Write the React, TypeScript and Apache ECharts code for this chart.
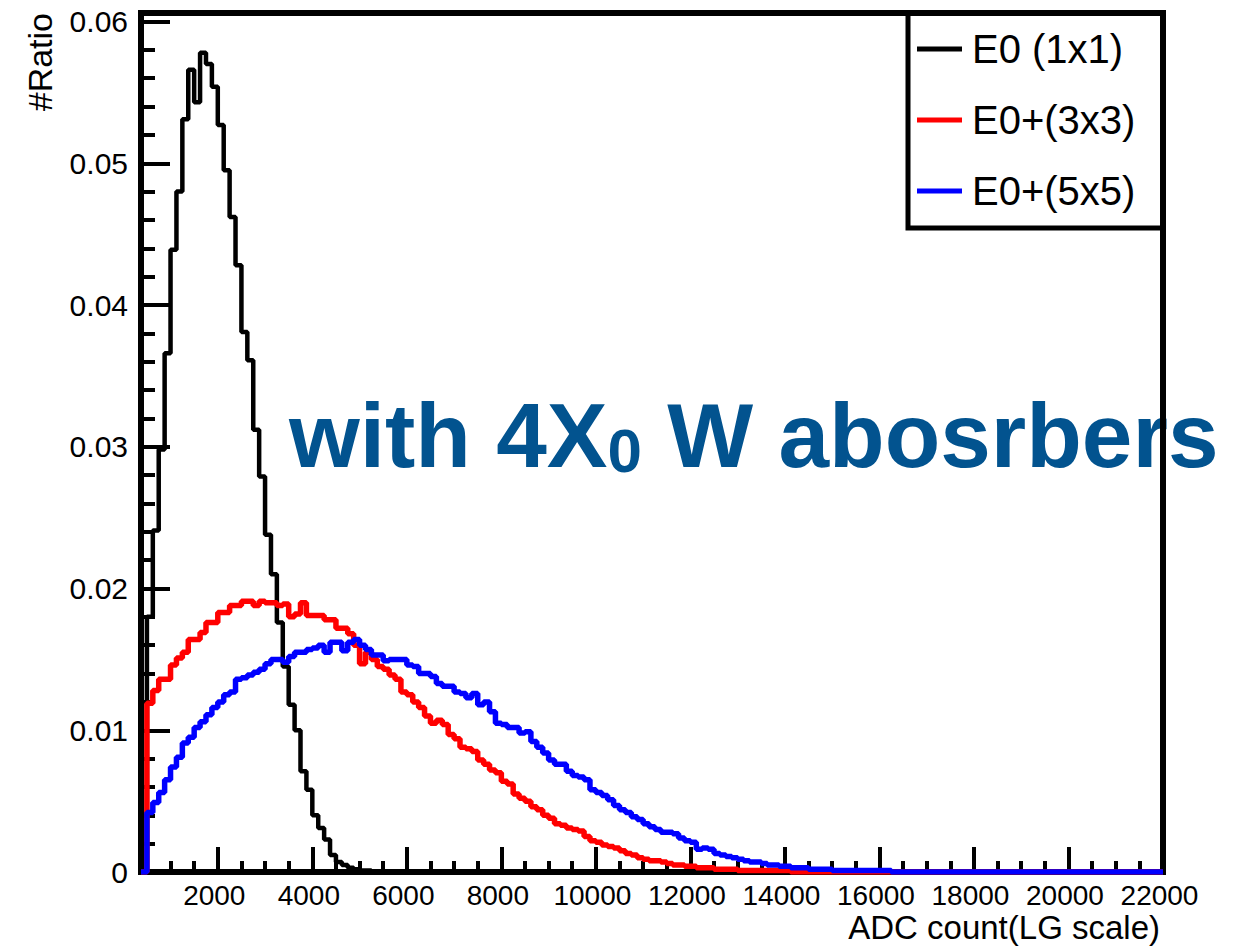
import React, { useEffect, useRef } from "react";
import * as echarts from "echarts";

// ---- axis ranges & ticks ----
const xMin = 375;
const xMax = 22000;
const yMin = 0;
const yMax = 0.0606;
const xTickValues = [2000, 4000, 6000, 8000, 10000, 12000, 14000, 16000, 18000, 20000, 22000];
const xMinorStep = 500;
const yTickValues = [0, 0.01, 0.02, 0.03, 0.04, 0.05, 0.06];
const yTickLabels = ["0", "0.01", "0.02", "0.03", "0.04", "0.05", "0.06"];
const yMinorStep = 0.002;

// ---- histogram binning ----
const binStart = 500;
const binWidth = 125;

// ---- series ----
const seriesNames = ["E0 (1x1)", "E0+(3x3)", "E0+(5x5)"];
const seriesColors = ["#000000", "#ff0000", "#0000ff"];

const e0_1x1 = [
  0.0180, 0.0241, 0.0298, 0.0366, 0.0439, 0.0480, 0.0531, 0.0566, 0.0543, 0.0578,
  0.0570, 0.0554, 0.0527, 0.0495, 0.0462, 0.0428, 0.0381, 0.0361, 0.0312, 0.0279,
  0.0238, 0.0210, 0.0176, 0.0145, 0.0118, 0.0100, 0.0071, 0.0058, 0.0040, 0.0031,
  0.0023, 0.0012, 0.0007, 0.0005, 0.0003, 0.0002, 0.0001, 0.0001, 0,
];

const e0_3x3 = [
  0.0119, 0.0128, 0.0136, 0.0136, 0.0146, 0.0151, 0.0155, 0.0164, 0.0164, 0.0169,
  0.0176, 0.0176, 0.0183, 0.0183, 0.0188, 0.0188, 0.0191, 0.0191, 0.0188, 0.0191,
  0.0190, 0.0190, 0.0188, 0.0189, 0.0180, 0.0182, 0.0190, 0.0181, 0.0181, 0.0181,
  0.0178, 0.0178, 0.0172, 0.0172, 0.0168, 0.0160, 0.0147, 0.0155, 0.0150, 0.0145,
  0.0143, 0.0139, 0.0136, 0.0127, 0.0125, 0.0120, 0.0116, 0.0110, 0.0105, 0.0107,
  0.0104, 0.0097, 0.0094, 0.0088, 0.0087, 0.0085, 0.0079, 0.0076, 0.0072, 0.0070,
  0.0064, 0.0062, 0.0055, 0.0052, 0.0050, 0.0046, 0.0044, 0.0040, 0.0038, 0.0034,
  0.0033, 0.0031, 0.0030, 0.0029, 0.0025, 0.0022, 0.0021, 0.0019, 0.0018, 0.0017,
  0.0015, 0.0013, 0.0012, 0.0010, 0.0009, 0.0008, 0.0008, 0.0007, 0.0006, 0.0005,
  0.0005, 0.0004, 0.0004, 0.0003, 0.0003, 0.0003, 0.0002, 0.0002, 0.0002, 0.0002,
  0.0001, 0.0001, 0.0001, 0.0001, 0.0001, 0.0001, 0.0001, 0.0001, 0.0001, 0,
];

const e0_5x5 = [
  0.0042, 0.0049, 0.0056, 0.0065, 0.0074, 0.0081, 0.0091, 0.0095, 0.0102, 0.0106,
  0.0111, 0.0116, 0.0120, 0.0125, 0.0127, 0.0136, 0.0137, 0.0139, 0.0141, 0.0143,
  0.0147, 0.0150, 0.0150, 0.0148, 0.0152, 0.0155, 0.0155, 0.0157, 0.0158, 0.0160,
  0.0155, 0.0162, 0.0162, 0.0156, 0.0162, 0.0164, 0.0160, 0.0157, 0.0153, 0.0153,
  0.0149, 0.0150, 0.0150, 0.0150, 0.0146, 0.0145, 0.0140, 0.0140, 0.0138, 0.0133,
  0.0131, 0.0131, 0.0127, 0.0126, 0.0123, 0.0126, 0.0118, 0.0120, 0.0113, 0.0105,
  0.0104, 0.0102, 0.0102, 0.0098, 0.0099, 0.0092, 0.0088, 0.0084, 0.0079, 0.0076,
  0.0076, 0.0071, 0.0068, 0.0067, 0.0065, 0.0058, 0.0056, 0.0054, 0.0051, 0.0047,
  0.0044, 0.0042, 0.0039, 0.0037, 0.0034, 0.0032, 0.0030, 0.0028, 0.0028, 0.0027,
  0.0024, 0.0022, 0.0021, 0.0016, 0.0017, 0.0016, 0.0013, 0.0012, 0.0011, 0.0010,
  0.0009, 0.0008, 0.0007, 0.0007, 0.0006, 0.0005, 0.0005, 0.0004, 0.0004, 0.0003,
  0.0003, 0.0003, 0.0002, 0.0002, 0.0002, 0.0002, 0.0001, 0.0001, 0.0001, 0.0001,
  0.0001, 0.0001, 0.0001, 0.0001, 0.0001, 0.0001, 0,
];

const annotationColor = "#02538f";
const FONT = '"Liberation Sans", Arial, Helvetica, sans-serif';

function toSteps(vals: number[]): number[][] {
  const pts: number[][] = [[xMin, 0]];
  vals.forEach((v, i) => pts.push([binStart + i * binWidth, v]));
  pts.push([binStart + vals.length * binWidth, 0]);
  pts.push([xMax, 0]);
  return pts;
}

function rangeTicks(from: number, to: number, step: number): number[] {
  const out: number[] = [];
  const n = Math.round((to - from) / step);
  for (let i = 0; i <= n; i++) out.push(Number((from + i * step).toFixed(6)));
  return out;
}

export default function App() {
  const ref = useRef<HTMLDivElement>(null);

  useEffect(() => {
    if (!ref.current) return;
    const chart = echarts.init(ref.current, undefined, { renderer: "svg" });
    const allData = [e0_1x1, e0_3x3, e0_5x5];
    const widths = [4.5, 5.5, 5.5];

    const xMinorTicks = rangeTicks(500, 21500, xMinorStep);
    const yMinorTicks = rangeTicks(0.002, 0.06, yMinorStep);

    const option: any = {
      animation: false,
      backgroundColor: "#ffffff",
      grid: {
        left: 141,
        top: 13,
        width: 1022,
        height: 859,
        show: true,
        borderColor: "#000",
        borderWidth: 6,
        backgroundColor: "transparent",
      },
      xAxis: [
        {
          type: "value",
          min: xMin,
          max: xMax,
          position: "bottom",
          axisLine: { show: false },
          splitLine: { show: false },
          axisTick: {
            show: true,
            inside: true,
            length: 25,
            lineStyle: { color: "#000", width: 4 },
            customValues: xTickValues,
          },
          axisLabel: {
            customValues: xTickValues,
            formatter: (v: number) => String(v),
            color: "#000",
            fontSize: 28,
            fontFamily: FONT,
            margin: 9,
            padding: [0, 7, 0, 0],
          },
        },
        {
          type: "value",
          min: xMin,
          max: xMax,
          position: "bottom",
          axisLine: { show: false },
          splitLine: { show: false },
          axisTick: {
            show: true,
            inside: true,
            length: 11,
            lineStyle: { color: "#000", width: 4 },
            customValues: xMinorTicks,
          },
          axisLabel: { show: false },
        },
      ],
      yAxis: [
        {
          type: "value",
          min: yMin,
          max: yMax,
          position: "left",
          axisLine: { show: false },
          splitLine: { show: false },
          axisTick: {
            show: true,
            inside: true,
            length: 29,
            lineStyle: { color: "#000", width: 4 },
            customValues: yTickValues,
          },
          axisLabel: {
            customValues: yTickValues,
            formatter: (v: number) => {
              let best = 0;
              yTickValues.forEach((t, i) => {
                if (Math.abs(t - v) < Math.abs(yTickValues[best] - v)) best = i;
              });
              return yTickLabels[best];
            },
            color: "#000",
            fontSize: 30,
            fontFamily: FONT,
            margin: 13,
          },
        },
        {
          type: "value",
          min: yMin,
          max: yMax,
          position: "left",
          offset: 0,
          axisLine: { show: false },
          splitLine: { show: false },
          axisTick: {
            show: true,
            inside: true,
            length: 14,
            lineStyle: { color: "#000", width: 4 },
            customValues: yMinorTicks,
          },
          axisLabel: { show: false },
        },
      ],
      legend: {
        data: seriesNames,
        orient: "vertical",
        left: 917,
        top: 29,
        padding: 0,
        itemGap: 31,
        itemWidth: 45,
        itemHeight: 5,
        icon: "rect",
        selectedMode: false,
        textStyle: {
          fontSize: 40,
          fontFamily: FONT,
          color: "#000",
          padding: [0, 0, 0, 5],
        },
      },
      series: seriesNames.map((name, i) => ({
        name,
        type: "line",
        step: "end",
        showSymbol: false,
        symbol: "none",
        xAxisIndex: 0,
        yAxisIndex: 0,
        z: 2 + i,
        lineStyle: { color: seriesColors[i], width: widths[i] },
        itemStyle: { color: seriesColors[i] },
        emphasis: { disabled: true },
        data: toSteps(allData[i]),
      })),
      graphic: [
        {
          type: "rect",
          z: 10,
          shape: { x: 908, y: 13, width: 255, height: 215 },
          style: { fill: "none", stroke: "#000", lineWidth: 5 },
        },
        {
          type: "text",
          z: -1,
          x: 289,
          y: 391,
          style: {
            text: "{a|with 4X}{s|0}{a| W abosrbers}",
            rich: {
              a: {
                fontSize: 91,
                fontWeight: "bold",
                fontFamily: FONT,
                fill: annotationColor,
                lineHeight: 90,
                verticalAlign: "bottom",
              },
              s: {
                fontSize: 62,
                fontWeight: "bold",
                fontFamily: FONT,
                fill: annotationColor,
                lineHeight: 44,
                verticalAlign: "bottom",
              },
            },
          },
        },
        {
          type: "text",
          x: 40,
          y: 13,
          rotation: Math.PI / 2,
          style: {
            text: "#Ratio",
            align: "right",
            verticalAlign: "middle",
            fontSize: 34,
            fontFamily: FONT,
            fill: "#000",
          },
        },
        {
          type: "text",
          x: 1160,
          y: 927,
          style: {
            text: "ADC count(LG scale)",
            align: "right",
            verticalAlign: "middle",
            fontSize: 33,
            fontFamily: FONT,
            fill: "#000",
          },
        },
      ],
    };

    chart.setOption(option);
    return () => chart.dispose();
  }, []);

  return (
    <div
      ref={ref}
      style={{ position: "absolute", left: 0, top: 0, width: 1239, height: 949, background: "#fff" }}
    />
  );
}
